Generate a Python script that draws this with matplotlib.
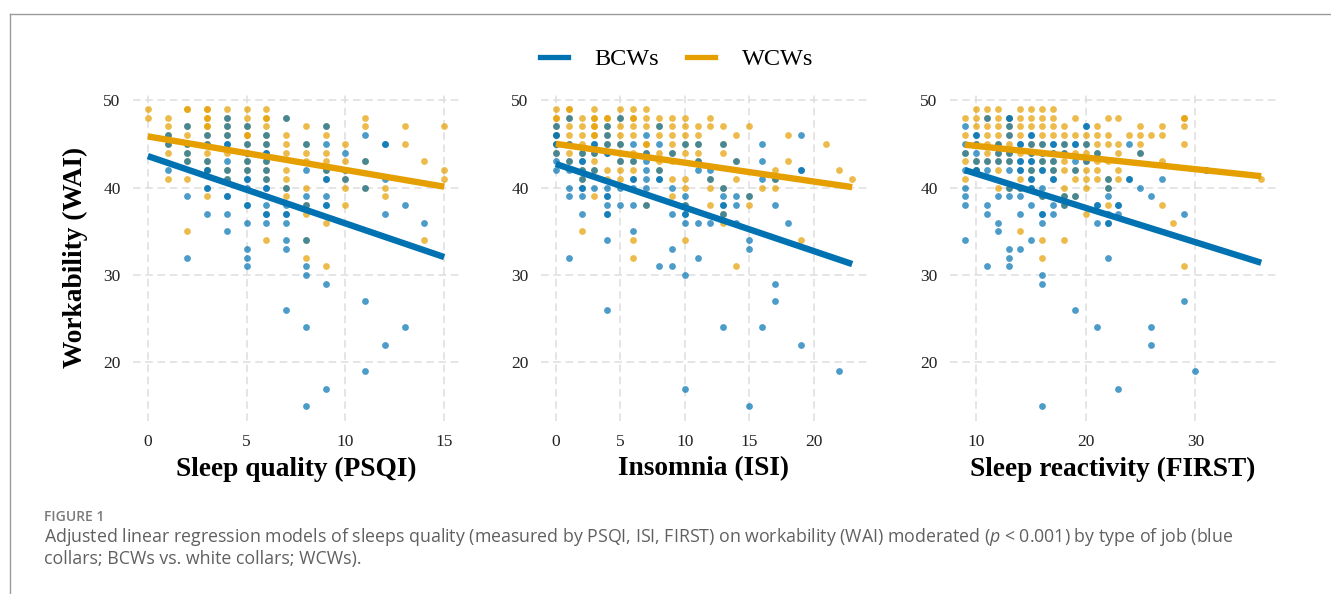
import matplotlib
matplotlib.use("Agg")
import matplotlib.pyplot as plt
from matplotlib.lines import Line2D
import numpy as np

plt.rcParams['mathtext.fontset'] = 'custom'
plt.rcParams['mathtext.it'] = 'Open Sans:italic'
plt.rcParams['mathtext.rm'] = 'Open Sans'

SERIF = 'Liberation Serif'
BLUE = '#0072B2'
ORANGE = '#E69F00'

# ---- data: x score -> list of WAI values ----
psqi_bcw = {1: [46, 45, 42], 2: [47, 45, 44, 43, 39, 32],
            3: [46, 45, 43, 42, 42, 40, 40, 37],
            4: [48, 47, 46, 45, 45, 43, 42, 41, 39, 39, 37, 35],
            5: [47, 45, 44, 44, 43, 42, 41, 41, 40, 38, 38, 36, 33, 32, 31],
            6: [46, 45, 44, 44, 43, 42, 41, 40, 40, 38, 37, 37, 36],
            7: [48, 40, 38, 37, 37, 36, 34, 33, 26],
            8: [45, 42, 39, 38, 34, 31, 30, 24, 15],
            9: [47, 45, 42, 41, 41, 39, 38, 38, 29, 17],
            10: [44, 42, 41], 11: [46, 43, 40, 27, 19],
            12: [45, 45, 41, 37, 22], 13: [38, 24], 14: [36]}
psqi_wcw = {0: [49, 48], 1: [48, 47, 46, 45, 44, 41],
            2: [49, 49, 47, 46, 45, 44, 43, 41, 35],
            3: [49, 49, 48, 48, 47, 47, 46, 45, 44, 43, 42, 39],
            4: [49, 48, 47, 46, 44, 42, 41],
            5: [49, 48, 47, 46, 46, 45, 43, 42],
            6: [49, 48, 48, 47, 46, 45, 43, 42, 41, 34],
            7: [48, 46, 45, 44, 42, 41, 40, 39],
            8: [47, 45, 44, 43, 40, 38, 37, 34, 32],
            9: [47, 46, 44, 43, 42, 36, 31],
            10: [45, 43, 42, 41, 40, 38], 11: [48, 47, 43, 40],
            12: [40, 39], 13: [47, 45], 14: [43, 34], 15: [47, 42, 41]}

isi_bcw = {0: [47, 46, 46, 45, 45, 44, 43, 42], 1: [48, 45, 43, 42, 40, 39, 32],
           2: [44, 43, 43, 42, 41, 40, 40, 39, 37], 3: [45, 45, 44, 42, 40],
           4: [47, 46, 45, 44, 44, 40, 39, 39, 38, 37, 37, 34, 26],
           5: [48, 45, 43, 40, 38], 6: [45, 43, 41, 41, 40, 38, 35],
           7: [46, 44, 43, 42, 41, 40, 38], 8: [47, 45, 42, 41, 41, 31],
           9: [44, 40, 37, 33, 31], 10: [45, 39, 38, 37, 37, 36, 30, 17],
           11: [45, 43, 42, 36, 32], 12: [42, 41, 36],
           13: [45, 40, 39, 38, 38, 37, 24], 14: [43, 39, 38, 36],
           15: [39, 34, 33, 15], 16: [45, 43, 41, 24], 17: [41, 38, 29, 27],
           18: [36], 19: [46, 42, 42, 22], 22: [19]}
isi_wcw = {0: [49, 48, 48, 47, 46, 45, 44], 1: [49, 49, 48, 47, 46, 45, 44, 43],
           2: [48, 47, 46, 45, 44, 42, 41, 35],
           3: [49, 48, 48, 47, 47, 46, 46, 44, 43, 42, 39],
           4: [48, 48, 47, 46, 45, 42, 41], 5: [49, 48, 47, 46, 45, 44, 43, 42, 41],
           6: [49, 48, 48, 47, 46, 44, 43, 42, 34, 32],
           7: [49, 48, 47, 45, 45, 44, 38], 8: [48, 47, 46, 44, 43, 42],
           9: [48, 47, 46, 45, 44, 43, 41, 39],
           10: [48, 47, 46, 45, 44, 41, 40, 38, 34], 11: [47, 46, 45, 44, 43],
           12: [48, 47, 41, 40, 38], 13: [47, 45, 44, 40, 37, 36],
           14: [46, 43, 41, 31], 15: [47, 39, 38], 16: [40], 17: [42, 41, 40],
           18: [46, 43], 19: [34], 21: [45], 22: [42], 23: [41]}

first_bcw = {9: [47, 45, 44, 42, 40, 39, 38, 34], 10: [46, 46, 45, 44, 43, 42, 42],
             11: [48, 43, 42, 38, 37, 31], 12: [45, 44, 43, 39, 36, 35],
             13: [48, 48, 47, 46, 44, 43, 42, 40, 39, 33, 32, 31],
             14: [45, 45, 43, 43, 42, 42, 40, 39, 37, 33],
             15: [46, 46, 45, 44, 43, 43, 42, 41, 41, 40, 40, 38, 34],
             16: [45, 44, 43, 42, 42, 40, 39, 37, 37, 36, 30, 29, 15],
             17: [45, 45, 44, 43, 42, 41, 41, 38, 37], 18: [45, 44, 39, 38],
             19: [45, 45, 43, 42, 39, 26], 20: [47, 47, 45, 43],
             21: [44, 38, 38, 36, 24], 22: [41, 40, 39, 37, 36, 36, 32],
             23: [38, 38, 37, 17], 24: [45, 41, 41], 25: [44, 40],
             26: [39, 24, 22], 27: [41], 29: [37, 27], 30: [19], 31: [42]}
first_wcw = {9: [48, 46, 44, 43, 41], 10: [49, 48, 47, 45, 43, 42],
             11: [49, 48, 47, 46, 45, 44, 43], 12: [49, 48, 47, 46, 45, 44, 43, 42, 40],
             13: [48, 47, 46, 45, 44, 43, 40], 14: [49, 48, 47, 46, 44, 41, 40, 35],
             15: [49, 48, 47, 45, 44, 42],
             16: [49, 48, 47, 46, 45, 44, 43, 39, 34, 32],
             17: [49, 48, 47, 46, 44, 43, 42],
             18: [47, 46, 45, 44, 43, 42, 40, 39, 38, 34],
             19: [48, 46, 44, 42, 41, 39], 20: [46, 45, 44, 43, 42, 41, 40, 37],
             21: [47, 46, 45, 44, 43, 42, 41], 22: [48, 46, 45, 43, 41, 40, 38],
             23: [48, 45, 44, 42, 41], 24: [46], 25: [47, 46, 45, 44], 26: [46],
             27: [47, 46, 43, 38], 28: [36], 29: [48, 48, 47, 45, 31], 31: [42],
             36: [41]}

# fitted lines: WAI at the smallest and largest score
psqi_fit = {'BCWs': (43.6, 32.05), 'WCWs': (45.85, 40.1)}
isi_fit = {'BCWs': (42.7, 31.25), 'WCWs': (45.0, 40.05)}
first_fit = {'BCWs': (42.0, 31.4), 'WCWs': (44.9, 41.3)}

x_titles = ['Sleep quality (PSQI)', 'Insomnia (ISI)', 'Sleep reactivity (FIRST)']
x_ticks = [[0, 5, 10, 15], [0, 5, 10, 15, 20], [10, 20, 30]]
y_ticks = [20, 30, 40, 50]

panels = [(psqi_bcw, psqi_wcw, psqi_fit), (isi_bcw, isi_wcw, isi_fit),
          (first_bcw, first_wcw, first_fit)]


def flat(d):
    xs, ys = [], []
    for k, v in d.items():
        xs += [k] * len(v)
        ys += v
    return np.array(xs), np.array(ys)


W, H = 1331, 594
fig = plt.figure(figsize=(W / 100, H / 100), dpi=100)

lefts = [133, 541, 950]
for i, (bcw, wcw, fit) in enumerate(panels):
    ax = fig.add_axes([lefts[i] / W, (H - 421) / H, 326 / W, 327 / H])
    bx, by = flat(bcw)
    wx, wy = flat(wcw)
    allx = np.concatenate([bx, wx])
    ally = np.concatenate([by, wy])
    x0, x1 = allx.min(), allx.max()
    y0, y1 = ally.min(), ally.max()
    ax.scatter(wx, wy, s=24, color=ORANGE, alpha=0.7, linewidths=0, zorder=2)
    ax.scatter(bx, by, s=24, color=BLUE, alpha=0.7, linewidths=0, zorder=3)
    ax.plot([x0, x1], fit['BCWs'], color=BLUE, lw=4.6, solid_capstyle='butt', zorder=4)
    ax.plot([x0, x1], fit['WCWs'], color=ORANGE, lw=4.6, solid_capstyle='butt', zorder=4)
    ax.set_xlim(x0 - 0.05 * (x1 - x0), x1 + 0.05 * (x1 - x0))
    ax.set_ylim(y0 - 0.05 * (y1 - y0), y1 + 0.05 * (y1 - y0))
    ax.set_xticks(x_ticks[i])
    ax.set_yticks(y_ticks)
    ax.grid(True, color='#dedede', lw=1.1, ls=(0, (5, 3)), zorder=0)
    ax.set_axisbelow(True)
    for s in ax.spines.values():
        s.set_visible(False)
    ax.tick_params(length=0, labelsize=12.5, labelcolor='#222222', pad=9)
    for lab in ax.get_xticklabels() + ax.get_yticklabels():
        lab.set_fontfamily(SERIF)
    ax.text(0.5, -0.147, x_titles[i], transform=ax.transAxes, ha='center',
            va='center', fontsize=19.7, fontweight='bold', family=SERIF)

fig.text(75 / W, (H - 257.5) / H, 'Workability (WAI)', rotation=90, ha='center',
         va='center', fontsize=19.7, fontweight='bold', family=SERIF)

handles = [Line2D([], [], color=BLUE, lw=3.8), Line2D([], [], color=ORANGE, lw=3.8)]
fig.legend(handles, ['BCWs', 'WCWs'], loc='center', bbox_to_anchor=(676.5 / W, (H - 59) / H),
           ncol=2, frameon=False, prop={'family': SERIF, 'size': 17.5},
           handlelength=1.15, handletextpad=1.1, columnspacing=1.15)

# page frame and caption
fig.add_artist(Line2D([9.5 / W, 1], [1 - 13.5 / H] * 2, transform=fig.transFigure,
                      color='#9a9a9a', lw=1))
fig.add_artist(Line2D([9.5 / W] * 2, [0, 1 - 13.5 / H], transform=fig.transFigure,
                      color='#9a9a9a', lw=1))
fig.text(44 / W, (H - 517) / H, 'FIGURE 1', ha='left', va='center', fontsize=10,
         fontweight='semibold', color='#7a7a7a', family='Open Sans')
fig.text(44 / W, (H - 537) / H,
         'Adjusted linear regression models of sleeps quality (measured by PSQI, ISI, FIRST) '
         'on workability (WAI) moderated ($p$ < 0.001) by type of job (blue',
         ha='left', va='center', fontsize=12.75, color='#606060', family='Open Sans')
fig.text(44 / W, (H - 559) / H, 'collars; BCWs vs. white collars; WCWs).',
         ha='left', va='center', fontsize=12.75, color='#606060', family='Open Sans')

fig.savefig('out.png', dpi=100)
